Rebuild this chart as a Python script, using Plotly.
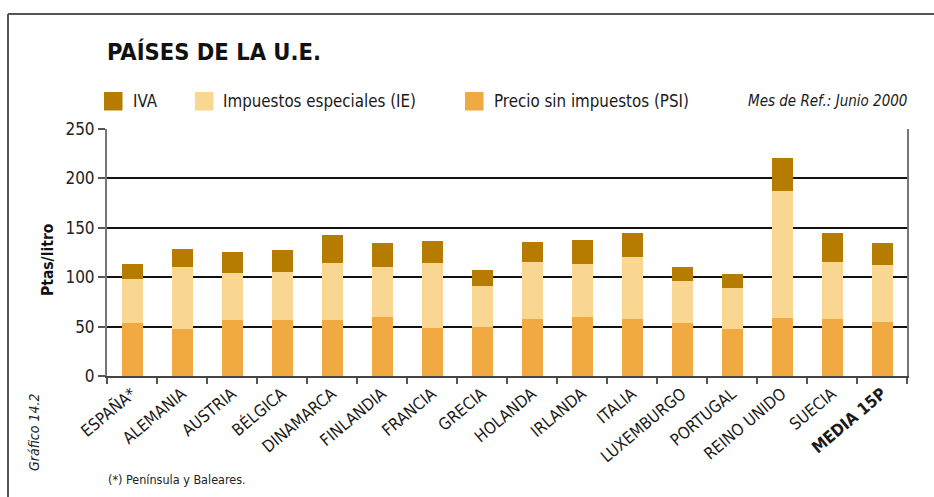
import plotly.graph_objects as go

# Fuel price breakdown by EU country (Ptas/litro), June 2000
paises = ["ESPAÑA*", "ALEMANIA", "AUSTRIA", "BÉLGICA", "DINAMARCA", "FINLANDIA",
          "FRANCIA", "GRECIA", "HOLANDA", "IRLANDA", "ITALIA", "LUXEMBURGO",
          "PORTUGAL", "REINO UNIDO", "SUECIA", "MEDIA 15P"]
psi = [53.7, 47.6, 56.8, 56.8, 56.8, 59.8, 48.6, 49.7, 57.8, 59.8, 57.8, 53.7,
       47.6, 58.8, 57.8, 54.7]
ie = [44.6, 62.9, 47.6, 48.6, 57.7, 50.7, 65.9, 41.5, 57.7, 53.7, 62.8, 42.6,
      41.6, 128.7, 57.7, 57.8]
iva = [15.2, 18.2, 21.3, 22.3, 28.4, 24.3, 22.3, 16.2, 20.3, 24.3, 24.3, 14.2,
       14.2, 33.4, 29.4, 22.3]
y_ticks = [0, 50, 100, 150, 200, 250]

series = [
    ("Precio sin impuestos (PSI)", psi, "#F1A942"),
    ("Impuestos especiales (IE)", ie, "#F9D692"),
    ("IVA", iva, "#B57C00"),
]

W, H = 934, 497
ML, MR, MT, MB = 107, 27, 129, 121
PW, PH = W - ML - MR, H - MT - MB
FONT = "Liberation Sans Narrow, DejaVu Sans Condensed, Arial Narrow, sans-serif"


def px(x):
    return (x - ML) / PW


def py(y):
    return (H - MB - y) / PH


fig = go.Figure()
for name, vals, color in series:
    fig.add_trace(go.Bar(x=paises, y=vals, name=name, marker_color=color,
                         marker_line_width=0, width=0.42, showlegend=False))

ticktext = [p if p != "MEDIA 15P" else "<b>MEDIA 15P</b>" for p in paises]

fig.update_layout(
    width=W, height=H, barmode="stack",
    margin=dict(l=ML, r=MR, t=MT, b=MB, pad=0),
    paper_bgcolor="white", plot_bgcolor="white",
    font=dict(family=FONT, color="#1a1a1a"),
    xaxis=dict(tickvals=paises, ticktext=ticktext, tickangle=-40,
               tickson="boundaries", ticks="outside", ticklen=6, tickwidth=1.5,
               tickcolor="#555", showline=True, linecolor="#444", linewidth=1.5,
               tickfont=dict(size=16.5, color="#1a1a1a"), range=[-0.5, 15.5],
               showgrid=False),
    yaxis=dict(range=[0, 250], tickvals=y_ticks, ticks="outside", ticklen=7,
               tickwidth=1.5, tickcolor="#555", showline=True, linecolor="#777",
               linewidth=2, mirror=True, showgrid=True, gridcolor="#111",
               gridwidth=1.5, zeroline=False,
               tickfont=dict(size=17, color="#222")),
)

shapes = []
annotations = []

# outer frame (top and left edges)
shapes.append(dict(type="line", xref="paper", yref="paper", x0=px(8), x1=px(940),
                   y0=py(14), y1=py(14), line=dict(color="#555", width=2)))
shapes.append(dict(type="line", xref="paper", yref="paper", x0=px(8), x1=px(8),
                   y0=py(14), y1=py(505), line=dict(color="#555", width=2)))

# legend swatches and labels
legend_items = [("IVA", "#B57C00", 104, 131),
                ("Impuestos especiales (IE)", "#F9D692", 195, 221),
                ("Precio sin impuestos (PSI)", "#F1A942", 465, 492)]
for label, color, sx, tx in legend_items:
    shapes.append(dict(type="rect", xref="paper", yref="paper",
                       x0=px(sx), x1=px(sx + 18.5), y0=py(110.5), y1=py(92),
                       fillcolor=color, line=dict(width=0)))
    annotations.append(dict(text=label, xref="paper", yref="paper", x=px(tx),
                            y=py(101), xanchor="left", yanchor="middle",
                            showarrow=False, font=dict(size=16.8, color="#1a1a1a")))

annotations += [
    dict(text="<i>Mes de Ref.: Junio 2000</i>", xref="paper", yref="paper",
         x=px(909), y=py(101), xanchor="right", yanchor="middle",
         showarrow=False, font=dict(size=15, color="#1a1a1a")),
    dict(text="<b>PAÍSES DE LA U.E.</b>", xref="paper", yref="paper",
         x=px(105), y=py(52), xanchor="left", yanchor="middle",
         showarrow=False, font=dict(size=23.5, color="#111")),
    dict(text="<b>Ptas/litro</b>", xref="paper", yref="paper", x=px(48),
         y=py(260), xanchor="center", yanchor="middle", textangle=-90,
         showarrow=False, font=dict(size=15.5, color="#111")),
    dict(text="<i>Gráfico 14.2</i>", xref="paper", yref="paper", x=px(34),
         y=py(433), xanchor="center", yanchor="middle", textangle=-90,
         showarrow=False, font=dict(size=14, color="#222")),
    dict(text="(*) Península y Baleares.", xref="paper", yref="paper", x=px(106),
         y=py(479), xanchor="left", yanchor="middle", showarrow=False,
         font=dict(size=12.5, color="#222")),
]

fig.update_layout(shapes=shapes, annotations=annotations)
fig.write_html("out.html")
